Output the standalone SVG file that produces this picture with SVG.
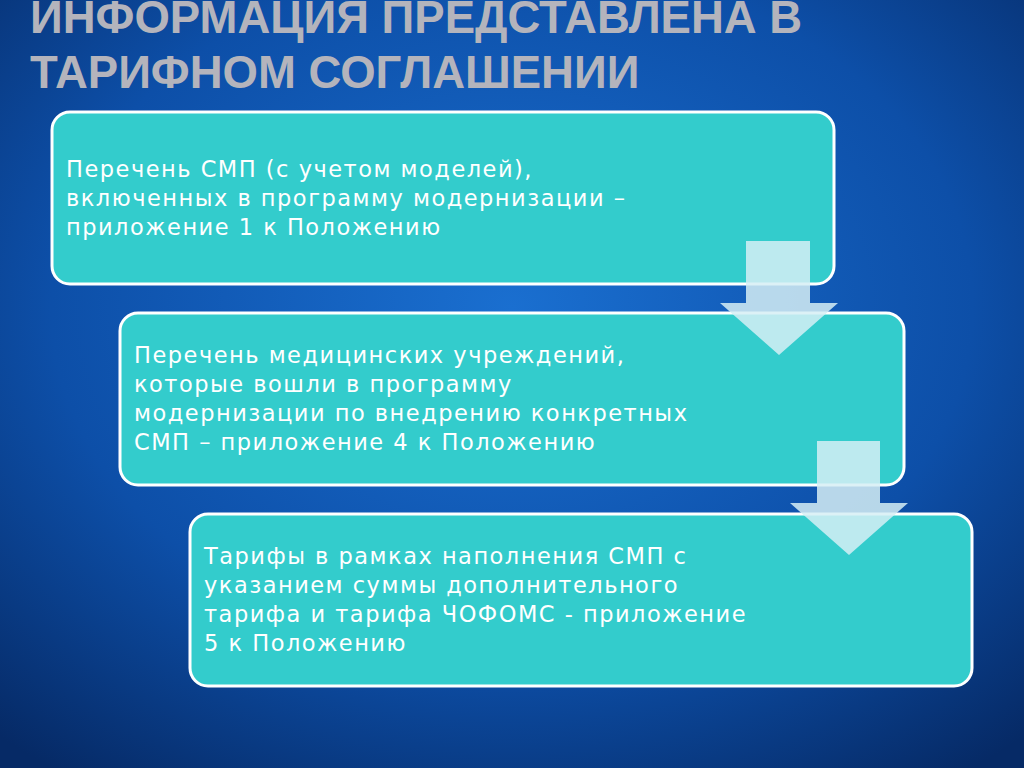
<svg xmlns="http://www.w3.org/2000/svg" width="1024" height="768" viewBox="0 0 1024 768">
<defs>
<radialGradient id="bg" cx="0.5" cy="0.4" r="0.75">
<stop offset="0" stop-color="#1a6fd0"/><stop offset="0.6" stop-color="#0d4fa8"/><stop offset="1" stop-color="#062a66"/>
</radialGradient>
<style>
.box{fill:#33cccc;stroke:#fff;stroke-width:3}
.arr{fill:#d6eef4;fill-opacity:0.85}
.t{font-family:"DejaVu Sans",sans-serif;font-size:22.5px;letter-spacing:1.5px;fill:#fff}
.h{font-family:"Liberation Sans",Arial,sans-serif;font-size:45.5px;font-weight:bold;fill:#b4b4bc}
</style>
</defs>
<rect width="1024" height="768" fill="url(#bg)"/>
<g id="title">
<text class="h" x="30" y="33">ИНФОРМАЦИЯ ПРЕДСТАВЛЕНА В</text>
<text class="h" x="30" y="88">ТАРИФНОМ СОГЛАШЕНИИ</text>
</g>
<g id="node1"><rect class="box" x="52" y="112" width="782" height="172" rx="18"/>
<text class="t"><tspan x="66" y="177">Перечень СМП (с учетом моделей),</tspan><tspan x="66" y="206">включенных в программу модернизации –</tspan><tspan x="66" y="235">приложение  1 к Положению</tspan></text></g>
<g id="node2"><rect class="box" x="120" y="313" width="784" height="172" rx="18"/>
<text class="t"><tspan x="134" y="363">Перечень медицинских учреждений,</tspan><tspan x="134" y="392">которые вошли в программу</tspan><tspan x="134" y="421">модернизации по внедрению конкретных</tspan><tspan x="134" y="450">СМП – приложение  4 к Положению</tspan></text></g>
<g id="node3"><rect class="box" x="190" y="514" width="782" height="172" rx="18"/>
<text class="t"><tspan x="204" y="564">Тарифы в рамках наполнения СМП  с</tspan><tspan x="204" y="593">указанием суммы дополнительного</tspan><tspan x="204" y="622">тарифа и тарифа ЧОФОМС -  приложение</tspan><tspan x="204" y="651">5 к Положению</tspan></text></g>
<g id="connectors">
<polygon class="arr" points="746,241 810,241 810,303 838,303 779,355 720,303 746,303"/>
<polygon class="arr" points="817,441 880,441 880,503 908,503 849,555 790,503 817,503"/>
</g>
</svg>
